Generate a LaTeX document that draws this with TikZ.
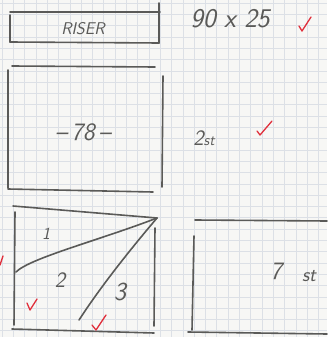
\documentclass[tikz,border=0pt]{standalone}
\usetikzlibrary{calc}
\definecolor{paper}{HTML}{F7F7F5}
\definecolor{gridc}{HTML}{DCE0E6}
\definecolor{pencil}{HTML}{5A5A58}
\definecolor{redpen}{HTML}{E0303C}
\tikzset{
  pen/.style={draw=pencil, line width=1.6pt, line cap=round},
  chk/.style={draw=redpen, line width=1.3pt, line cap=round, line join=round},
  hand/.style={text=pencil, font=\sffamily\itshape, inner sep=0pt}
}
\newcommand{\hsz}[1]{\fontsize{#1}{#1}\selectfont}
\begin{document}
\begin{tikzpicture}[x=1pt,y=-1pt]
\fill[paper] (0,0) rectangle (327,337);
\useasboundingbox (0,0) rectangle (327,337);
% grid
\foreach \i in {0,...,29} {
  \draw[gridc, line width=0.5pt] ({2+\i*11.3},0) -- ({2+\i*11.3},337);
}
\foreach \j in {0,...,30} {
  \draw[gridc, line width=0.5pt] (0,{3+\j*11.3}) -- (327,{3+\j*11.3});
}
% --- Riser box
\draw[pen] (10,12) -- (160,12);
\draw[pen] (10,42) -- (159,43);
\draw[pen] (10,15) -- (10,42);
\draw[pen] (159,3) -- (159,43);
\node[hand, font=\sffamily\itshape\hsz{17}] (riser) at (83,29) {RISER};
\node[hand, font=\sffamily\itshape\hsz{27}] (dim) at (230,19) {90 x 25};
\draw[chk] (299,26) -- (302,31) -- (311,17);
% --- 78 box
\draw[pen] (12,66) -- (155,67);
\draw[pen] (8,70) -- (8,188);
\draw[pen] (8,189) -- (153,192);
\draw[pen] (163,76) -- (162,187);
\node[hand, font=\sffamily\itshape\hsz{25}] (n78) at (83,132) {--\,78\,--};
\node[hand, font=\sffamily\itshape\hsz{22}] (st2) at (204,138) {2{\hsz{15}st}};
\draw[chk] (257,131) -- (260,135) -- (272,121);
% --- three-part box
\coordinate (tr) at (157,218);
\coordinate (lm) at (16,272);
\coordinate (bm) at (79,320);
\draw[pen] (13,206) -- (tr);
\draw[pen] (15,212) -- (14,325);
\draw[pen] (12,329) -- (154,333);
\draw[pen] (155,228) -- (154,326);
\draw[pen] (lm) .. controls (30,258) and (100,240) .. (tr);
\draw[pen] (tr) .. controls (140,238) and (105,280) .. (bm);
\node[hand, font=\sffamily\itshape\hsz{17}] (l1) at (46,234) {1};
\node[hand, font=\sffamily\itshape\hsz{22}] (l2) at (60,280) {2};
\node[hand, font=\sffamily\itshape\hsz{26}] (l3) at (120,292) {3};
\draw[chk] (-2,262) -- (0,265) -- (3,256);
\draw[chk] (27,303) -- (30,310) -- (37,299);
\draw[chk] (92,325) -- (96,330) -- (106,315);
% --- 7 st box
\draw[pen] (195,220) -- (327,221);
\draw[pen] (194,236) -- (192,330);
\draw[pen] (188,332) -- (327,334);
\node[hand, font=\sffamily\itshape\hsz{25}] (st7) at (276,271) {7};
\node[hand, font=\sffamily\itshape\hsz{20}] (st7b) at (309,276) {st};
\end{tikzpicture}
\end{document}
